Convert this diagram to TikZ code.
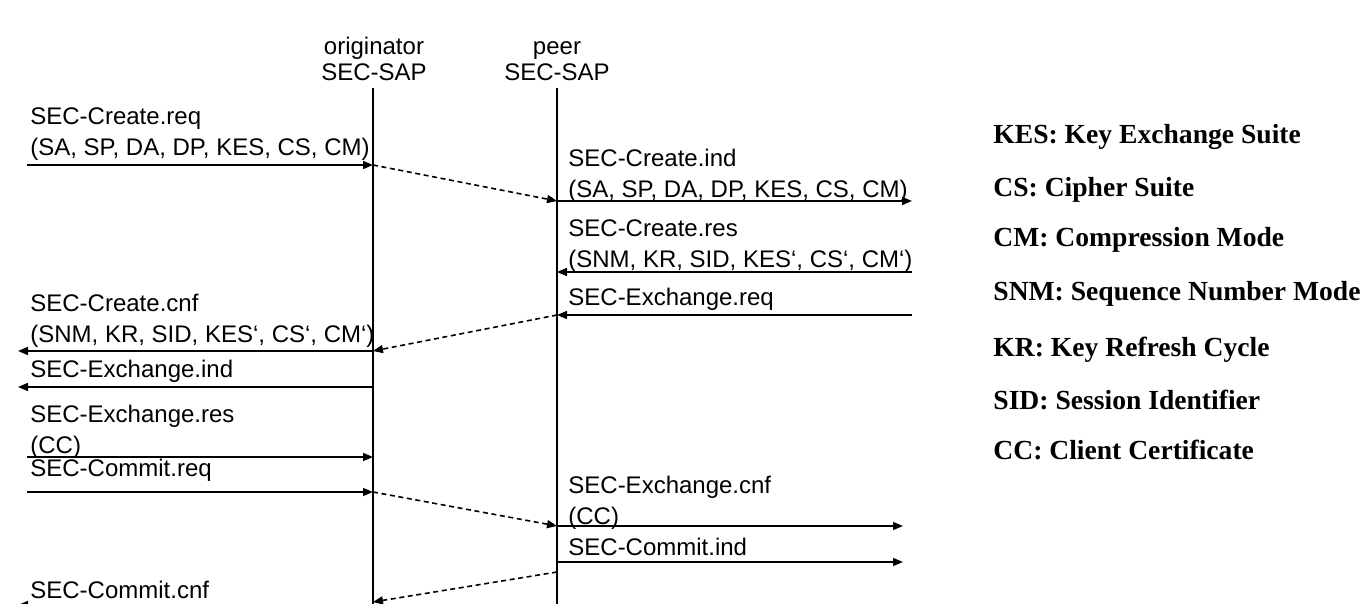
\documentclass[tikz,border=0pt]{standalone}
\usepackage{fontspec}
\setmainfont{Liberation Sans}
\newfontfamily\legendfont{Liberation Serif}
\usetikzlibrary{arrows.meta}

\begin{document}
\begin{tikzpicture}[
    x=0.5pt, y=-0.5pt,
    font=\fontsize{12}{15.5}\selectfont,
    lbl/.style={anchor=base west, inner sep=0pt, align=left},
    sap/.style={anchor=base, inner sep=0pt, align=center,
                font=\fontsize{12}{13}\selectfont},
    note/.style={anchor=base west, inner sep=0pt,
                 font=\legendfont\bfseries\fontsize{13.8}{16}\selectfont},
    life/.style={line width=0.7pt},
    msg/.style={-{Triangle[length=5pt,width=4pt]}, line width=0.8pt},
    dmsg/.style={msg, dash pattern=on 2.5pt off 1.8pt}
  ]
  \useasboundingbox[fill=white] (0,0) rectangle (1366,604);

  % service access points
  \node[sap] (orig) at (374,81) {originator\\SEC-SAP};
  \node[sap] (peer) at (557,81) {peer\\SEC-SAP};
  \coordinate (otop) at (373,88);  \coordinate (obot) at (373,604);
  \coordinate (ptop) at (557,88);  \coordinate (pbot) at (557,604);
  \draw[life] (otop) -- (obot);
  \draw[life] (ptop) -- (pbot);

  % message ends
  \coordinate (a1) at (27,165);   \coordinate (o1) at (373,165);
  \coordinate (p2) at (557,201);  \coordinate (r2) at (912,201);
  \coordinate (p3) at (557,272);  \coordinate (r3) at (912,272);
  \coordinate (p4) at (557,315);  \coordinate (r4) at (912,315);
  \coordinate (a5) at (18,351);   \coordinate (o5) at (373,351);
  \coordinate (a6) at (18,387);   \coordinate (o6) at (373,387);
  \coordinate (a7) at (27,457);   \coordinate (o7) at (373,457);
  \coordinate (a8) at (27,492);   \coordinate (o8) at (373,492);
  \coordinate (p9) at (557,526);  \coordinate (r9) at (903,526);
  \coordinate (p10) at (557,562); \coordinate (r10) at (903,562);
  \coordinate (p11) at (557,572); \coordinate (o11) at (373,602);
  \coordinate (a12) at (18,605);  \coordinate (o12) at (373,605);

  % originator side
  \node[lbl] (crreq) at (30,156) {SEC-Create.req\\(SA, SP, DA, DP, KES, CS, CM)};
  \node[lbl] (crcnf) at (30,343) {SEC-Create.cnf\\(SNM, KR, SID, KES`, CS`, CM`)};
  \node[lbl] (exind) at (30,378) {SEC-Exchange.ind};
  \node[lbl] (exres) at (30,453) {SEC-Exchange.res\\(CC)};
  \node[lbl] (cmreq) at (30,476) {SEC-Commit.req};
  \node[lbl] (cmcnf) at (30,598) {SEC-Commit.cnf};

  % peer side
  \node[lbl] (crind) at (568,198) {SEC-Create.ind\\(SA, SP, DA, DP, KES, CS, CM)};
  \node[lbl] (crres) at (568,268) {SEC-Create.res\\(SNM, KR, SID, KES`, CS`, CM`)};
  \node[lbl] (exreq) at (568,306) {SEC-Exchange.req};
  \node[lbl] (excnf) at (568,524) {SEC-Exchange.cnf\\(CC)};
  \node[lbl] (cmind) at (568,555) {SEC-Commit.ind};

  \draw[msg] (a1) -- (o1);
  \draw[dmsg] (o1) -- (p2);
  \draw[msg] (p2) -- (r2);
  \draw[msg] (r3) -- (p3);
  \draw[msg] (r4) -- (p4);
  \draw[dmsg] (p4) -- (o5);
  \draw[msg] (o5) -- (a5);
  \draw[msg] (o6) -- (a6);
  \draw[msg] (a7) -- (o7);
  \draw[msg] (a8) -- (o8);
  \draw[dmsg] (o8) -- (p9);
  \draw[msg] (p9) -- (r9);
  \draw[msg] (p10) -- (r10);
  \draw[dmsg] (p11) -- (o11);
  \draw[msg] (o12) -- (a12);

  % abbreviations
  \node[note] (kes) at (993,144) {KES: Key Exchange Suite};
  \node[note] (cs)  at (993,197) {CS: Cipher Suite};
  \node[note] (cm)  at (993,247) {CM: Compression Mode};
  \node[note] (snm) at (993,301) {SNM: Sequence Number Mode};
  \node[note] (kr)  at (993,357) {KR: Key Refresh Cycle};
  \node[note] (sid) at (993,409) {SID: Session Identifier};
  \node[note] (cc)  at (993,459) {CC: Client Certificate};
\end{tikzpicture}
\end{document}
